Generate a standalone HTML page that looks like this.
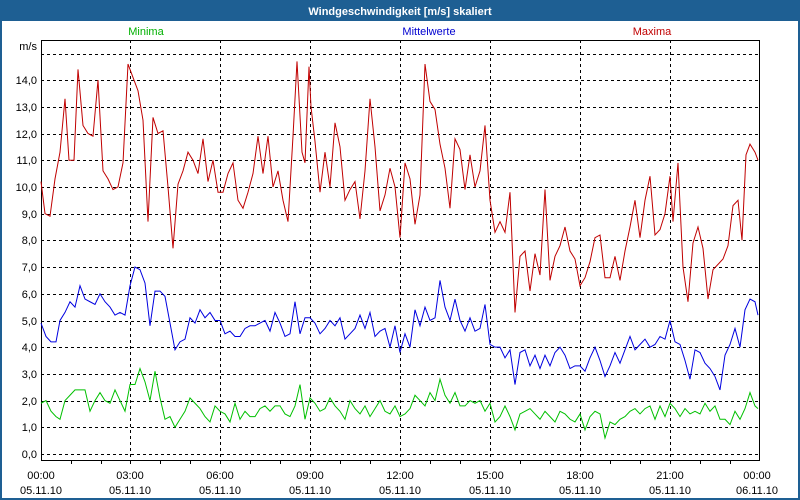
<!DOCTYPE html>
<html><head><meta charset="utf-8"><style>
html,body{margin:0;padding:0;background:#fff}
svg{display:block}
text{font-family:"Liberation Sans",sans-serif;font-size:11px}
</style></head><body>
<svg width="800" height="500" viewBox="0 0 800 500" xmlns="http://www.w3.org/2000/svg">
<rect x="0" y="0" width="800" height="500" fill="#1e5f93"/>
<rect x="2" y="21" width="796" height="477" fill="#fff"/>
<text x="400" y="15" fill="#fff" text-anchor="middle" font-weight="bold">Windgeschwindigkeit [m/s] skaliert</text>
<text x="146" y="35" fill="#00b000" text-anchor="middle">Minima</text>
<text x="429" y="35" fill="#0000d0" text-anchor="middle">Mittelwerte</text>
<text x="652" y="35" fill="#c00000" text-anchor="middle">Maxima</text>
<g stroke="#000" stroke-width="1" stroke-dasharray="3,3" shape-rendering="crispEdges">
<line x1="41" x2="760" y1="54.5" y2="54.5"/><line x1="41" x2="760" y1="80.5" y2="80.5"/><line x1="41" x2="760" y1="107.5" y2="107.5"/><line x1="41" x2="760" y1="134.5" y2="134.5"/><line x1="41" x2="760" y1="160.5" y2="160.5"/><line x1="41" x2="760" y1="187.5" y2="187.5"/><line x1="41" x2="760" y1="214.5" y2="214.5"/><line x1="41" x2="760" y1="240.5" y2="240.5"/><line x1="41" x2="760" y1="267.5" y2="267.5"/><line x1="41" x2="760" y1="294.5" y2="294.5"/><line x1="41" x2="760" y1="321.5" y2="321.5"/><line x1="41" x2="760" y1="347.5" y2="347.5"/><line x1="41" x2="760" y1="374.5" y2="374.5"/><line x1="41" x2="760" y1="401.5" y2="401.5"/><line x1="41" x2="760" y1="427.5" y2="427.5"/><line x1="41" x2="760" y1="454.5" y2="454.5"/>
<line x1="130.5" x2="130.5" y1="40" y2="460"/><line x1="220.5" x2="220.5" y1="40" y2="460"/><line x1="310.5" x2="310.5" y1="40" y2="460"/><line x1="400.5" x2="400.5" y1="40" y2="460"/><line x1="490.5" x2="490.5" y1="40" y2="460"/><line x1="580.5" x2="580.5" y1="40" y2="460"/><line x1="670.5" x2="670.5" y1="40" y2="460"/>
</g>
<g stroke="#000" shape-rendering="crispEdges">
<line x1="41.5" y1="40" x2="41.5" y2="461"/><line x1="759.5" y1="40" x2="759.5" y2="461"/>
<line x1="41" y1="40.5" x2="760" y2="40.5"/><line x1="41" y1="460.5" x2="760" y2="460.5"/>
<line x1="71.5" x2="71.5" y1="460" y2="464"/><line x1="101.5" x2="101.5" y1="460" y2="464"/><line x1="130.5" x2="130.5" y1="460" y2="464"/><line x1="160.5" x2="160.5" y1="460" y2="464"/><line x1="190.5" x2="190.5" y1="460" y2="464"/><line x1="220.5" x2="220.5" y1="460" y2="464"/><line x1="250.5" x2="250.5" y1="460" y2="464"/><line x1="280.5" x2="280.5" y1="460" y2="464"/><line x1="310.5" x2="310.5" y1="460" y2="464"/><line x1="340.5" x2="340.5" y1="460" y2="464"/><line x1="370.5" x2="370.5" y1="460" y2="464"/><line x1="400.5" x2="400.5" y1="460" y2="464"/><line x1="430.5" x2="430.5" y1="460" y2="464"/><line x1="460.5" x2="460.5" y1="460" y2="464"/><line x1="490.5" x2="490.5" y1="460" y2="464"/><line x1="520.5" x2="520.5" y1="460" y2="464"/><line x1="550.5" x2="550.5" y1="460" y2="464"/><line x1="580.5" x2="580.5" y1="460" y2="464"/><line x1="610.5" x2="610.5" y1="460" y2="464"/><line x1="640.5" x2="640.5" y1="460" y2="464"/><line x1="670.5" x2="670.5" y1="460" y2="464"/><line x1="700.5" x2="700.5" y1="460" y2="464"/><line x1="730.5" x2="730.5" y1="460" y2="464"/>
</g>
<g text-anchor="end" fill="#000">
<text x="37" y="50">m/s</text>
<text x="37" y="84">14,0</text><text x="37" y="111">13,0</text><text x="37" y="138">12,0</text><text x="37" y="164">11,0</text><text x="37" y="191">10,0</text><text x="37" y="218">9,0</text><text x="37" y="244">8,0</text><text x="37" y="271">7,0</text><text x="37" y="298">6,0</text><text x="37" y="325">5,0</text><text x="37" y="351">4,0</text><text x="37" y="378">3,0</text><text x="37" y="405">2,0</text><text x="37" y="431">1,0</text><text x="37" y="458">0,0</text>
</g>
<g text-anchor="middle" fill="#000">
<text x="41" y="479">00:00</text><text x="41" y="494">05.11.10</text>
<text x="130" y="479">03:00</text><text x="130" y="494">05.11.10</text>
<text x="220" y="479">06:00</text><text x="220" y="494">05.11.10</text>
<text x="310" y="479">09:00</text><text x="310" y="494">05.11.10</text>
<text x="400" y="479">12:00</text><text x="400" y="494">05.11.10</text>
<text x="490" y="479">15:00</text><text x="490" y="494">05.11.10</text>
<text x="580" y="479">18:00</text><text x="580" y="494">05.11.10</text>
<text x="670" y="479">21:00</text><text x="670" y="494">05.11.10</text>
<text x="757" y="479">00:00</text><text x="757" y="494">06.11.10</text>
</g>
<g transform="translate(0,454) scale(1,-26.71)" fill="none">
<polyline vector-effect="non-scaling-stroke" stroke="#c00000" stroke-width="1" points="41,10.2 45,9 50,8.9 55,10.3 60,11.3 65,13.3 69,11 74,11 78,14.4 83,12.3 88,12 93,11.9 98,14 103,10.6 108,10.3 113,9.9 118,10 123,10.9 128,14.6 133,14.1 138,13.6 143,12.5 148,8.7 153,12.6 158,12 163,12.1 168,10 173,7.7 178,10.1 183,10.6 188,11.3 193,11 198,10.5 203,11.8 208,10.2 213,11 218,9.8 223,9.8 228,10.5 233,10.9 238,9.5 243,9.2 248,9.8 253,10.5 258,11.9 263,10.5 268,11.9 273,10 278,10.6 283,9.5 288,8.7 293,11.9 297,14.7 302,11.3 305,10.9 309,14.5 311,13 315,11.7 320,9.8 325,11.3 330,10 335,12.4 340,11.5 345,9.5 350,9.9 355,10.2 360,8.8 365,10.6 370,13.3 375,11.5 380,9.1 385,9.7 390,10.7 395,10 400,8.1 405,10.9 410,10.3 415,8.6 420,9.7 425,14.6 430,13.2 435,12.9 440,11.6 445,10.7 450,9.2 455,11.8 460,11.4 465,9.9 470,11.2 475,10 480,10.6 485,12.3 490,9.5 495,8.3 500,8.7 505,8.3 510,9.8 515,5.3 520,7.4 525,7.6 530,6.1 535,7.5 540,6.7 545,9.9 550,6.5 555,7.4 560,7.8 565,8.5 570,7.6 575,7.3 580,6.3 585,6.6 590,7.2 595,8.1 600,8.2 605,6.6 610,6.6 615,7.4 620,6.5 625,7.6 630,8.5 635,9.5 640,8.1 645,9.5 650,10.4 655,8.2 660,8.4 665,9 670,10.4 673,8.7 678,10.9 683,7 688,5.7 693,7.9 698,8.5 703,7.7 708,5.8 713,6.9 718,7.1 723,7.3 728,7.8 733,9.3 738,9.5 742,8 746,11.2 750,11.6 755,11.3 758,11"/>
<polyline vector-effect="non-scaling-stroke" stroke="#0000e0" stroke-width="1" points="41,4.9 46,4.4 51,4.2 56,4.2 60,5 65,5.3 70,5.7 75,5.5 80,6.3 85,5.8 90,5.7 95,5.6 100,6 105,5.7 110,5.5 115,5.2 120,5.3 125,5.2 130,6.3 135,7 140,6.9 145,6.4 150,4.8 155,6.1 160,6.1 165,5.9 170,4.9 175,3.9 180,4.2 185,4.3 190,5.1 195,4.9 200,5.4 205,5.1 210,5.3 215,5 220,5 225,4.5 230,4.6 235,4.4 240,4.4 245,4.7 250,4.8 255,4.8 260,4.9 265,5 270,4.6 275,5.3 280,4.9 285,4.4 290,4.5 295,5.7 300,4.5 305,5.1 310,5.1 315,4.9 320,4.5 325,4.7 330,5 335,4.8 340,5.1 345,4.3 350,4.5 355,4.7 360,5.2 365,4.7 370,5.3 375,4.4 380,4.6 385,4.7 390,4 395,4.8 400,3.8 405,4.5 410,4 415,5.4 420,4.8 425,5.5 430,5 435,5.1 440,6.5 445,5.5 450,5 455,5.8 460,5 465,4.6 470,5.1 475,4.6 480,4.7 485,5.6 490,4.1 495,4 500,4 505,3.6 510,3.9 515,2.6 520,3.8 525,3.9 530,3.3 535,3.7 540,3.2 545,3.7 550,3.3 555,3.8 560,4 565,3.7 570,3.2 575,3.3 580,3.3 585,3.1 590,3.6 595,4 600,3.5 605,2.9 610,3.3 615,3.8 620,3.4 625,3.9 630,4.4 635,3.9 640,4.1 645,4.3 650,4 655,4.1 660,4.4 665,4.3 670,5 675,4.2 680,4.1 685,3.5 690,2.8 695,3.9 700,3.8 705,3.4 710,3.2 715,2.9 720,2.4 725,3.7 730,4.1 735,4.7 740,4 745,5.4 750,5.8 755,5.7 758,5.2"/>
<polyline vector-effect="non-scaling-stroke" stroke="#00c000" stroke-width="1" points="41,1.9 46,2 51,1.6 56,1.4 60,1.3 65,2 70,2.2 75,2.4 80,2.4 85,2.4 90,1.6 95,2 100,2.3 105,2 110,1.9 115,2.4 120,2 125,1.6 130,2.6 135,2.6 140,3.2 145,2.7 150,2 155,3.1 160,2.1 165,1.3 170,1.4 175,1 180,1.3 185,1.6 190,2.1 195,1.9 200,1.7 205,1.4 210,1.2 215,1.8 220,1.6 225,1.5 230,1.2 235,1.9 240,1.3 245,1.6 250,1.4 255,1.4 260,1.7 265,1.8 270,1.6 275,1.8 280,1.8 285,1.5 290,1.4 295,1.8 300,2.6 305,1.3 310,2.1 315,1.9 320,1.6 325,1.7 330,2.1 335,1.8 340,1.6 345,1.3 350,2 355,1.7 360,1.5 365,1.8 370,1.4 375,1.7 380,2 385,1.6 390,1.5 395,1.8 400,1.4 405,1.5 410,1.7 415,2.2 420,2 425,1.8 430,2.3 435,2 440,2.8 445,2.2 450,1.9 455,2.3 460,1.8 465,1.8 470,2 475,1.9 480,2 485,1.6 490,1.9 495,1.2 500,1.4 505,1.8 510,1.4 515,0.9 520,1.5 525,1.6 530,1.7 535,1.5 540,1.3 545,1.6 550,1.4 555,1.2 560,1.6 565,1.5 570,1.3 575,1.2 580,1.5 585,0.9 590,1.4 595,1.6 600,1.5 605,0.6 610,1.2 615,1.1 620,1.3 625,1.4 630,1.6 635,1.7 640,1.5 645,1.7 650,1.8 655,1.3 660,1.8 665,1.4 670,1.9 675,1.7 680,1.4 685,1.7 690,1.5 695,1.6 700,1.5 705,1.9 710,1.6 715,1.8 720,1.3 725,1.3 730,1.1 735,1.6 740,1.3 745,1.7 750,2.3 755,1.8 758,1.7"/>
</g>
</svg>
</body></html>
